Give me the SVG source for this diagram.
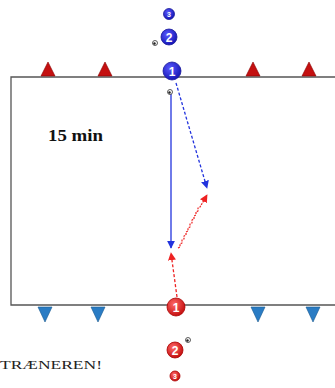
<svg xmlns="http://www.w3.org/2000/svg" width="335" height="388" viewBox="0 0 335 388">
<style>
.bp{fill:url(#gb);stroke:#1a1a9a;stroke-width:0.8}
.rp{fill:url(#gr);stroke:#a00;stroke-width:0.8}
.num{font-family:"Liberation Sans",Arial,sans-serif;font-weight:bold;fill:#fff;text-anchor:middle}
.cr{fill:#c41010;stroke:#8a0000;stroke-width:0.6}
.cb{fill:#2a7cc4;stroke:#1a5a90;stroke-width:0.6}
.ball{fill:#fff;stroke:#333;stroke-width:0.8}
</style>
<defs>
<radialGradient id="gb" cx="0.4" cy="0.35" r="0.7"><stop offset="0" stop-color="#5a5aff"/><stop offset="1" stop-color="#1010b0"/></radialGradient>
<radialGradient id="gr" cx="0.4" cy="0.35" r="0.7"><stop offset="0" stop-color="#ff6a6a"/><stop offset="1" stop-color="#c00808"/></radialGradient>
<marker id="ab" viewBox="0 0 10 10" refX="9" refY="5" markerWidth="8" markerHeight="8" orient="auto" markerUnits="userSpaceOnUse"><path d="M0,0 L10,5 L0,10 z" fill="#2233dd"/></marker>
<marker id="ar" viewBox="0 0 10 10" refX="9" refY="5" markerWidth="8" markerHeight="8" orient="auto" markerUnits="userSpaceOnUse"><path d="M0,0 L10,5 L0,10 z" fill="#ee2222"/></marker>
</defs>
<rect width="335" height="388" fill="#fff"/>
<g id="field">
<path d="M337,77 L11,77 L11,305 L337,305" fill="none" stroke="#555" stroke-width="1.3"/>
</g>
<g id="cones-top">
<polygon class="cr" points="48,62 41,76 55,76"/>
<polygon class="cr" points="105,62 98,76 112,76"/>
<polygon class="cr" points="253,62 246,76 260,76"/>
<polygon class="cr" points="309,62 302,76 316,76"/>
</g>
<g id="cones-bottom">
<polygon class="cb" points="45,322 38,307 52,307"/>
<polygon class="cb" points="98,322 91,307 105,307"/>
<polygon class="cb" points="258,322 251,307 265,307"/>
<polygon class="cb" points="313,322 306,307 320,307"/>
</g>
<g id="connectors" fill="none">
<line x1="171" y1="94" x2="171" y2="248" stroke="#2233dd" stroke-width="1.3" marker-end="url(#ab)"/>
<line x1="176" y1="83" x2="207" y2="188" stroke="#2233dd" stroke-width="1.3" stroke-dasharray="3,2" marker-end="url(#ab)"/>
<line x1="177" y1="297" x2="171" y2="253" stroke="#ee2222" stroke-width="1.3" stroke-dasharray="3,2" marker-end="url(#ar)"/>
<path d="M178,248 l2,-1 l0,-3 l2,-1 l0,-3 l2,-1 l0,-3 l2,-1 l0,-3 l2,-1 l0,-3 l2,-1 l0,-3 l2,-1 l0,-3 l2,-1 l0,-3 l2,-1 l0,-3 l2,-1 l0,-3 l2,-1 L207,195" stroke="#ee2222" stroke-width="1.2" stroke-dasharray="2,1" marker-end="url(#ar)"/>
</g>
<g id="blue3"><circle class="bp" cx="169" cy="14" r="5.5"/><text class="num" x="169" y="17" font-size="7">3</text></g>
<g id="blue2"><circle class="bp" cx="169" cy="37" r="8"/><text class="num" x="169" y="41.5" font-size="12">2</text></g>
<g id="blue1"><circle class="bp" cx="172" cy="71" r="9"/><text class="num" x="172" y="75.5" font-size="12">1</text></g>
<g id="red1"><circle class="rp" cx="176" cy="307" r="9"/><text class="num" x="176" y="311.5" font-size="12">1</text></g>
<g id="red2"><circle class="rp" cx="175" cy="350" r="8"/><text class="num" x="175" y="354.5" font-size="12">2</text></g>
<g id="red3"><circle class="rp" cx="175" cy="376" r="5"/><text class="num" x="175" y="379" font-size="7">3</text></g>
<g id="ball1"><circle class="ball" cx="155" cy="43" r="2.5"/><circle cx="154.5" cy="43.5" r="1.2" fill="#222"/></g>
<g id="ball2"><circle class="ball" cx="170" cy="92" r="2.5"/><circle cx="169.5" cy="92.5" r="1.2" fill="#222"/></g>
<g id="ball3"><circle class="ball" cx="188" cy="340" r="2.5"/><circle cx="187.5" cy="340.5" r="1.2" fill="#222"/></g>
<text x="48" y="141" font-family="'Liberation Serif','Times New Roman',serif" font-weight="bold" font-size="16.5" fill="#111" textLength="55" lengthAdjust="spacingAndGlyphs">15 min</text>
<text x="0" y="369" font-family="'Liberation Serif','Times New Roman',serif" font-size="12" fill="#222" textLength="102" lengthAdjust="spacingAndGlyphs">TRÆNEREN!</text>
</svg>
